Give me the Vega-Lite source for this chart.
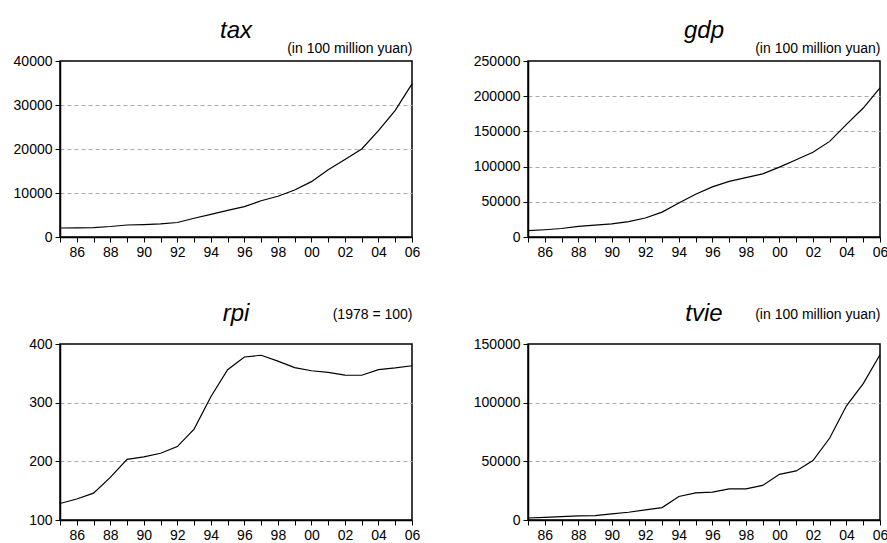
{
  "$schema": "https://vega.github.io/schema/vega-lite/v6.json",
  "description": "Four EViews-style panels: tax, gdp, rpi and tvie, 1985-2006.",
  "padding": {"left": 12, "top": 18, "right": 0, "bottom": 0},
  "config": {
    "font": "Liberation Sans",
    "view": {"stroke": "black", "strokeWidth": 1.5},
    "axis": {
      "labelFont": "Liberation Sans",
      "labelFontSize": 14,
      "labelColor": "black",
      "domainColor": "black",
      "domainWidth": 1.5,
      "tickColor": "black",
      "tickSize": 5,
      "labelPadding": 3,
      "titleFont": "Liberation Sans",
      "titleFontSize": 14,
      "titleFontWeight": "normal",
      "titleColor": "black",
      "gridColor": "#aaaaaa",
      "gridDash": [4, 3],
      "labelFlush": false,
      "labelOverlap": false
    },
    "title": {
      "font": "Liberation Sans",
      "fontSize": 24,
      "fontStyle": "italic",
      "fontWeight": "normal",
      "color": "black",
      "anchor": "middle",
      "frame": "group",
      "baseline": "alphabetic"
    }
  },
  "data": {
    "values": [
      {"year": 1985, "tax": 2040.8, "gdp": 9016.0, "rpi": 128.1, "tvie": 1720},
      {"year": 1986, "tax": 2090.7, "gdp": 10275.2, "rpi": 135.8, "tvie": 2290},
      {"year": 1987, "tax": 2140.4, "gdp": 12058.6, "rpi": 145.7, "tvie": 2860},
      {"year": 1988, "tax": 2390.5, "gdp": 15042.8, "rpi": 172.7, "tvie": 3440},
      {"year": 1989, "tax": 2727.4, "gdp": 16992.3, "rpi": 203.4, "tvie": 3720},
      {"year": 1990, "tax": 2821.9, "gdp": 18667.8, "rpi": 207.7, "tvie": 5150},
      {"year": 1991, "tax": 2990.2, "gdp": 21781.5, "rpi": 213.7, "tvie": 6580},
      {"year": 1992, "tax": 3296.9, "gdp": 26923.5, "rpi": 225.2, "tvie": 8590},
      {"year": 1993, "tax": 4255.3, "gdp": 35333.9, "rpi": 254.9, "tvie": 10600},
      {"year": 1994, "tax": 5126.9, "gdp": 48197.9, "rpi": 310.2, "tvie": 20040},
      {"year": 1995, "tax": 6038.0, "gdp": 60793.7, "rpi": 356.1, "tvie": 23190},
      {"year": 1996, "tax": 6909.8, "gdp": 71176.6, "rpi": 377.8, "tvie": 23760},
      {"year": 1997, "tax": 8234.0, "gdp": 78973.0, "rpi": 380.8, "tvie": 26600},
      {"year": 1998, "tax": 9262.8, "gdp": 84402.3, "rpi": 370.9, "tvie": 26600},
      {"year": 1999, "tax": 10682.6, "gdp": 89677.1, "rpi": 359.8, "tvie": 29490},
      {"year": 2000, "tax": 12581.5, "gdp": 99214.6, "rpi": 354.4, "tvie": 38940},
      {"year": 2001, "tax": 15301.4, "gdp": 109655.2, "rpi": 351.6, "tvie": 41800},
      {"year": 2002, "tax": 17636.5, "gdp": 120332.7, "rpi": 347.0, "tvie": 50680},
      {"year": 2003, "tax": 20017.3, "gdp": 135822.8, "rpi": 346.7, "tvie": 69860},
      {"year": 2004, "tax": 24165.7, "gdp": 159878.3, "rpi": 356.4, "tvie": 97340},
      {"year": 2005, "tax": 28778.5, "gdp": 183217.4, "rpi": 359.3, "tvie": 116240},
      {"year": 2006, "tax": 34804.4, "gdp": 211923.5, "rpi": 362.9, "tvie": 140860}
    ]
  },
  "columns": 2,
  "spacing": {"column": 51, "row": 41},
  "concat": [
    {
      "width": 352,
      "height": 176,
      "title": {"text": "tax", "offset": -2},
      "mark": {"type": "line", "color": "black", "strokeWidth": 1.2},
      "encoding": {
        "x": {
          "field": "year", "type": "quantitative",
          "scale": {"domain": [1985, 2006], "nice": false, "zero": false},
          "axis": {
            "title": null, "grid": false,
            "values": [1985, 1986, 1987, 1988, 1989, 1990, 1991, 1992, 1993, 1994, 1995, 1996, 1997, 1998, 1999, 2000, 2001, 2002, 2003, 2004, 2005, 2006],
            "labelExpr": "datum.value % 2 == 0 ? substring(toString(datum.value), 2, 4) : ''"
          }
        },
        "y": {
          "field": "tax", "type": "quantitative",
          "scale": {"domain": [0, 40000], "nice": false},
          "axis": {
            "title": "(in 100 million yuan)",
            "titleAngle": 0, "titleAlign": "right", "titleBaseline": "alphabetic",
            "titleX": 352, "titleY": -9,
            "values": [0, 10000, 20000, 30000, 40000], "format": "d",
            "gridOpacity": {"condition": {"test": "datum.value == 0 || datum.value == 40000", "value": 0}, "value": 1}
          }
        }
      }
    },
    {
      "width": 352,
      "height": 176,
      "title": {"text": "gdp", "offset": -2},
      "mark": {"type": "line", "color": "black", "strokeWidth": 1.2},
      "encoding": {
        "x": {
          "field": "year", "type": "quantitative",
          "scale": {"domain": [1985, 2006], "nice": false, "zero": false},
          "axis": {
            "title": null, "grid": false,
            "values": [1985, 1986, 1987, 1988, 1989, 1990, 1991, 1992, 1993, 1994, 1995, 1996, 1997, 1998, 1999, 2000, 2001, 2002, 2003, 2004, 2005, 2006],
            "labelExpr": "datum.value % 2 == 0 ? substring(toString(datum.value), 2, 4) : ''"
          }
        },
        "y": {
          "field": "gdp", "type": "quantitative",
          "scale": {"domain": [0, 250000], "nice": false},
          "axis": {
            "title": "(in 100 million yuan)",
            "titleAngle": 0, "titleAlign": "right", "titleBaseline": "alphabetic",
            "titleX": 352, "titleY": -9,
            "values": [0, 50000, 100000, 150000, 200000, 250000], "format": "d",
            "gridOpacity": {"condition": {"test": "datum.value == 0 || datum.value == 250000", "value": 0}, "value": 1}
          }
        }
      }
    },
    {
      "width": 352,
      "height": 176,
      "title": {"text": "rpi", "offset": -19},
      "mark": {"type": "line", "color": "black", "strokeWidth": 1.2},
      "encoding": {
        "x": {
          "field": "year", "type": "quantitative",
          "scale": {"domain": [1985, 2006], "nice": false, "zero": false},
          "axis": {
            "title": null, "grid": false,
            "values": [1985, 1986, 1987, 1988, 1989, 1990, 1991, 1992, 1993, 1994, 1995, 1996, 1997, 1998, 1999, 2000, 2001, 2002, 2003, 2004, 2005, 2006],
            "labelExpr": "datum.value % 2 == 0 ? substring(toString(datum.value), 2, 4) : ''"
          }
        },
        "y": {
          "field": "rpi", "type": "quantitative",
          "scale": {"domain": [100, 400], "nice": false, "zero": false},
          "axis": {
            "title": "(1978 = 100)",
            "titleAngle": 0, "titleAlign": "right", "titleBaseline": "alphabetic",
            "titleX": 352, "titleY": -26,
            "values": [100, 200, 300, 400], "format": "d",
            "gridOpacity": {"condition": {"test": "datum.value == 100 || datum.value == 400", "value": 0}, "value": 1}
          }
        }
      }
    },
    {
      "width": 352,
      "height": 176,
      "title": {"text": "tvie", "offset": -19},
      "mark": {"type": "line", "color": "black", "strokeWidth": 1.2},
      "encoding": {
        "x": {
          "field": "year", "type": "quantitative",
          "scale": {"domain": [1985, 2006], "nice": false, "zero": false},
          "axis": {
            "title": null, "grid": false,
            "values": [1985, 1986, 1987, 1988, 1989, 1990, 1991, 1992, 1993, 1994, 1995, 1996, 1997, 1998, 1999, 2000, 2001, 2002, 2003, 2004, 2005, 2006],
            "labelExpr": "datum.value % 2 == 0 ? substring(toString(datum.value), 2, 4) : ''"
          }
        },
        "y": {
          "field": "tvie", "type": "quantitative",
          "scale": {"domain": [0, 150000], "nice": false},
          "axis": {
            "title": "(in 100 million yuan)",
            "titleAngle": 0, "titleAlign": "right", "titleBaseline": "alphabetic",
            "titleX": 352, "titleY": -26,
            "values": [0, 50000, 100000, 150000], "format": "d",
            "gridOpacity": {"condition": {"test": "datum.value == 0 || datum.value == 150000", "value": 0}, "value": 1}
          }
        }
      }
    }
  ]
}
